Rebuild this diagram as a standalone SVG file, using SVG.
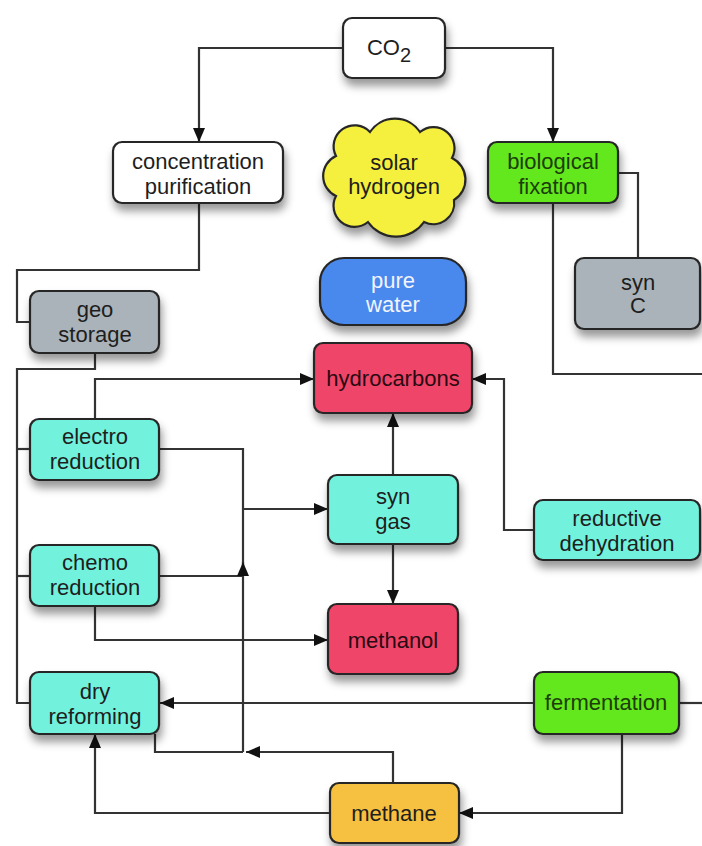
<svg xmlns="http://www.w3.org/2000/svg" width="702" height="846" viewBox="0 0 702 846">
<defs>
<filter id="sh" x="-20%" y="-20%" width="140%" height="170%">
<feDropShadow dx="2" dy="7" stdDeviation="4" flood-color="#000" flood-opacity="0.4"/>
</filter>
<marker id="ah" viewBox="0 0 14 12" refX="14" refY="6" markerWidth="14" markerHeight="12" markerUnits="userSpaceOnUse" orient="auto">
<path d="M0,0 L14,6 L0,12 z" fill="#111"/>
</marker>
<style>
.n{stroke:#262626;stroke-width:2.2;filter:url(#sh)}
.t{font-family:"Liberation Sans",Arial,Helvetica,sans-serif;font-size:22px;text-anchor:middle;fill:#1e1e1e}
.c path,.c polyline,.c line{fill:none;stroke:#333;stroke-width:2.2}
.a{marker-end:url(#ah)}
.cy{fill:#72f2dc}
.gr{fill:#62e81a}
.pk{fill:#ef4468}
.gy{fill:#a9b3b9}
</style>
</defs>
<rect width="702" height="846" fill="#fff"/>
<g class="c" id="connectors">
<polyline class="a" points="343,48 199,48 199,142"/>
<polyline class="a" points="445,48 553,48 553,142"/>
<polyline points="199,203 199,270 17,270 17,322 30,322"/>
<polyline points="618,173 638,173 638,258"/>
<polyline points="553,203 553,374 702,374"/>
<polyline points="95,353 95,369 17,369 17,703 30,703"/>
<line x1="17" y1="449" x2="30" y2="449"/>
<line x1="17" y1="576" x2="30" y2="576"/>
<polyline class="a" points="95,419 95,379 314,379"/>
<polyline points="159,449 243,449 243,576"/>
<line class="a" x1="243" y1="509" x2="328" y2="509"/>
<line x1="159" y1="576" x2="243" y2="576"/>
<line class="a" x1="243" y1="752" x2="243" y2="562"/>
<polyline points="155,734 155,752 243,752"/>
<polyline class="a" points="393,783 393,752 246,752"/>
<polyline class="a" points="330,813 95,813 95,734"/>
<polyline class="a" points="622,734 622,813 459,813"/>
<line class="a" x1="534" y1="703" x2="160" y2="703"/>
<line x1="679" y1="703" x2="702" y2="703"/>
<polyline class="a" points="95,606 95,640 328,640"/>
<line class="a" x1="393" y1="475" x2="393" y2="413"/>
<line class="a" x1="393" y1="544" x2="393" y2="604"/>
<polyline class="a" points="534,530 504,530 504,379 472,379"/>
</g>
<g id="co2">
<rect class="n" x="343" y="18" width="102" height="60" rx="9" fill="#fff"/>
<text class="t" x="389" y="55">CO<tspan font-size="20" dy="7">2</tspan></text>
</g>
<g id="concentration">
<rect class="n" x="113" y="142" width="170" height="61" rx="9" fill="#fff"/>
<text class="t" x="198" y="169">concentration</text>
<text class="t" x="198" y="194">purification</text>
</g>
<g id="biological">
<rect class="n gr" x="488" y="142" width="130" height="61" rx="9"/>
<text class="t" x="553" y="169" style="fill:#1d3d0a">biological</text>
<text class="t" x="553" y="194" style="fill:#1d3d0a">fixation</text>
</g>
<g id="solar">
<path class="n" fill="#f4f03c" d="M336,156 A21,21 0 0 1 370,132 A30,30 0 0 1 420,132 A21,21 0 0 1 452,158 A24,24 0 0 1 454,200 A21,21 0 0 1 424,222 A34,34 0 0 1 368,222 A21,21 0 0 1 336,196 A22,22 0 0 1 336,156 Z"/>
<text class="t" x="394" y="170">solar</text>
<text class="t" x="394" y="194">hydrogen</text>
</g>
<g id="purewater">
<rect class="n" x="320" y="258" width="146" height="67" rx="24" fill="#4a88ec"/>
<text class="t" x="393" y="288" style="fill:#f2f4ff">pure</text>
<text class="t" x="393" y="312" style="fill:#f2f4ff">water</text>
</g>
<g id="sync">
<rect class="n gy" x="575" y="258" width="125" height="71" rx="9"/>
<text class="t" x="638" y="290">syn</text>
<text class="t" x="638" y="313">C</text>
</g>
<g id="geo">
<rect class="n gy" x="30" y="291" width="129" height="62" rx="9"/>
<text class="t" x="95" y="317">geo</text>
<text class="t" x="95" y="342">storage</text>
</g>
<g id="hydrocarbons">
<rect class="n pk" x="314" y="343" width="158" height="70" rx="9"/>
<text class="t" x="393" y="386" style="fill:#2a0a12">hydrocarbons</text>
</g>
<g id="electro">
<rect class="n cy" x="30" y="419" width="129" height="61" rx="9"/>
<text class="t" x="95" y="444">electro</text>
<text class="t" x="95" y="469">reduction</text>
</g>
<g id="syngas">
<rect class="n cy" x="328" y="475" width="130" height="69" rx="9"/>
<text class="t" x="393" y="504">syn</text>
<text class="t" x="393" y="529">gas</text>
</g>
<g id="reductive">
<rect class="n cy" x="534" y="500" width="166" height="60" rx="9"/>
<text class="t" x="617" y="526">reductive</text>
<text class="t" x="617" y="551">dehydration</text>
</g>
<g id="chemo">
<rect class="n cy" x="30" y="545" width="129" height="61" rx="9"/>
<text class="t" x="95" y="570">chemo</text>
<text class="t" x="95" y="595">reduction</text>
</g>
<g id="methanol">
<rect class="n pk" x="328" y="604" width="130" height="70" rx="9"/>
<text class="t" x="393" y="648" style="fill:#2a0a12">methanol</text>
</g>
<g id="dry">
<rect class="n cy" x="30" y="672" width="129" height="62" rx="9"/>
<text class="t" x="95" y="699">dry</text>
<text class="t" x="95" y="724">reforming</text>
</g>
<g id="fermentation">
<rect class="n gr" x="534" y="672" width="145" height="62" rx="9"/>
<text class="t" x="606" y="710" style="fill:#1d3d0a">fermentation</text>
</g>
<g id="methane">
<rect class="n" x="330" y="783" width="129" height="60" rx="9" fill="#f6c040"/>
<text class="t" x="394" y="821">methane</text>
</g>
</svg>
